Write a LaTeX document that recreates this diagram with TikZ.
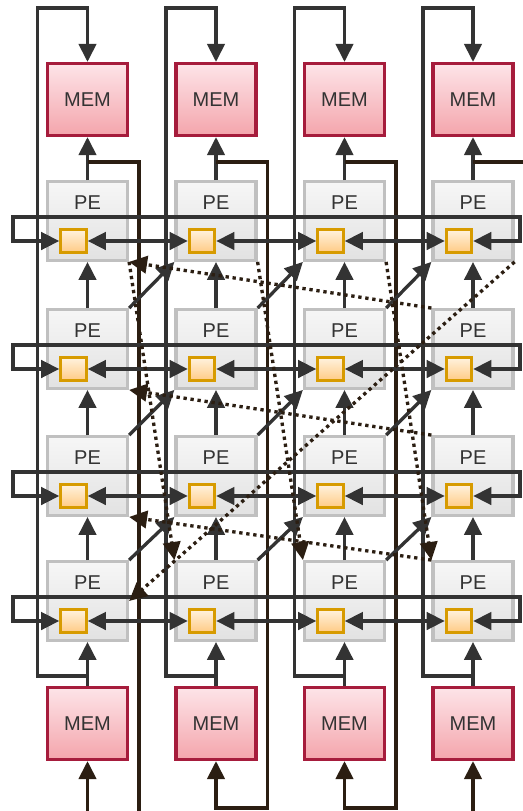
\documentclass[tikz,border=0pt]{standalone}
\usepackage{fontspec}
\setmainfont{Liberation Sans}
\usetikzlibrary{arrows.meta}

\definecolor{memtop}{HTML}{FDE4E8}
\definecolor{membot}{HTML}{F4A5AC}
\definecolor{memline}{HTML}{A61C3C}
\definecolor{petop}{HTML}{F6F6F6}
\definecolor{pebot}{HTML}{E2E2E2}
\definecolor{peline}{HTML}{C0C0C0}
\definecolor{regtop}{HTML}{FFF2DE}
\definecolor{regbot}{HTML}{FFCB85}
\definecolor{regline}{HTML}{D79B00}
\definecolor{wire}{HTML}{333333}
\definecolor{feedwire}{HTML}{2B1E12}

\tikzset{
  >={Triangle[length=13.5pt,width=13pt]},
  mem/.style={draw=memline, line width=2.4pt, top color=memtop, bottom color=membot,
    minimum width=60pt, minimum height=54pt, inner sep=0pt, text=wire,
    font=\fontsize{15}{17}\selectfont},
  pe/.style={draw=peline, line width=2.4pt, top color=petop, bottom color=pebot,
    minimum width=60pt, minimum height=59pt, inner sep=0pt},
  petext/.style={text=wire, inner sep=0pt, font=\fontsize{15}{17}\selectfont},
  reg/.style={draw=regline, line width=2.4pt, top color=regtop, bottom color=regbot,
    minimum width=19pt, minimum height=17pt, inner sep=0pt},
  link/.style={draw=wire, line width=2.5pt},
  feed/.style={draw=feedwire, line width=2.5pt},
  wrapdot/.style={draw=feedwire, line width=2.5pt, dash pattern=on 2.5pt off 2.8pt, ->},
}

\begin{document}
\begin{tikzpicture}[x=0.75pt,y=-0.75pt]
\useasboundingbox (0,0) rectangle (523,811);

% memories and processing elements
\foreach \c/\x in {1/87.5,2/216,3/344.5,4/473}{
  \node[mem] (mt\c) at (\x,99.5) {MEM};
  \node[mem] (mb\c) at (\x,723.5) {MEM};
  \foreach \r/\y in {1/221,2/349,3/476,4/601}{
    \node[pe] (pe\r\c) at (\x,\y) {};
    \node[petext] (pet\r\c) at (\x,{\y-18}) {PE};
    \node[reg] (sq\r\c) at ({\x-14},{\y+20}) {};
  }
}

% columns: memory -> PEs -> memory, plus the loop back
\foreach \c/\x in {1/87.5,2/216,3/344.5,4/473}{
  \draw[link,->] (mb\c.north) -- (pe4\c.south);
  \foreach \r/\p in {2/1,3/2,4/3}
    \draw[link,->] (pe\r\c.north) -- (pe\p\c.south);
  \draw[link,->] (pe1\c.north) -- (mt\c.south);
  \coordinate (lb\c) at (\x,676);
  \draw[link,->] (lb\c) -| ({\x-50},8) -| (mt\c.north);
  \coordinate (tb\c) at (\x,162);
}

% results fed down to the bottom memories
\coordinate (out1) at (139,811);
\coordinate (out4) at (523,162);
\coordinate (in1) at (87.5,811);
\coordinate (in4) at (473,811);
\draw[feed] (tb1) -| (out1);
\draw[feed,->] (tb2) -| (267.5,808) -| (mb2.south);
\draw[feed,->] (tb3) -| (396,808) -| (mb3.south);
\draw[feed] (tb4) -- (out4);
\draw[feed,->] (in1) -- (mb1.south);
\draw[feed,->] (in4) -- (mb4.south);

% rows: neighbour links and the wrap-around
\foreach \r/\y in {1/221,2/349,3/476,4/601}{
  \draw[link,<->] (sq\r1.east) -- (sq\r2.west);
  \draw[link,<->] (sq\r2.east) -- (sq\r3.west);
  \draw[link,<->] (sq\r3.east) -- (sq\r4.west);
  \draw[link,<->] (sq\r1.west) -| (13,{\y-4}) -- (520,{\y-4}) |- (sq\r4.east);
}

% diagonal links
\foreach \r/\p in {2/1,3/2,4/3}
  \foreach \c/\n in {1/2,2/3,3/4}
    \draw[link,->] (pe\r\c.north east) -- (pe\p\n.south west);

% diagonal wrap-around
\foreach \c/\n in {1/2,2/3,3/4}
  \draw[wrapdot] (pe1\c.south east) -- (pe4\n.north west);
\foreach \r/\p in {2/1,3/2,4/3}
  \draw[wrapdot] (pe\r4.north west) -- (pe\p1.south east);
\draw[wrapdot] (pe14.south east) -- (pe41.east);
\end{tikzpicture}
\end{document}
